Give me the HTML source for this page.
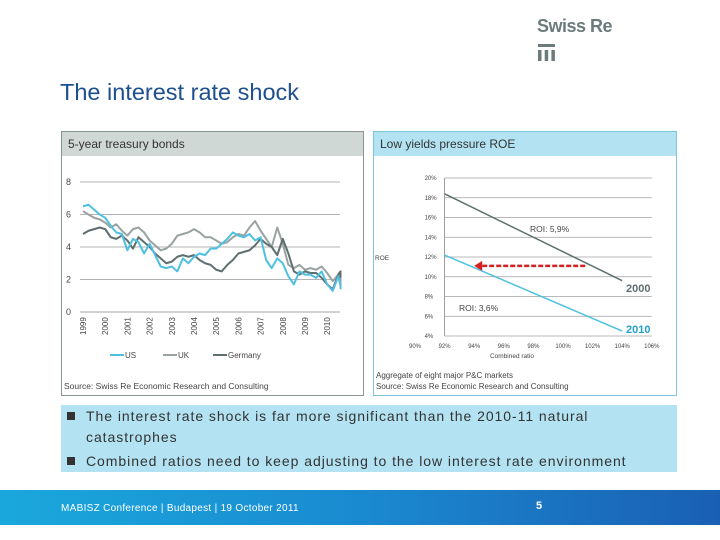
<!DOCTYPE html>
<html><head><meta charset="utf-8"><style>
body{margin:0;width:720px;height:540px;overflow:hidden;background:#fff;font-family:"Liberation Sans",sans-serif;position:relative}
.a{position:absolute}
</style></head><body>
<div class="a" style="left:537px;top:16px;font-size:18px;font-weight:bold;color:#6b7b7b;letter-spacing:-0.5px">Swiss Re</div>
<svg class="a" style="left:538px;top:44px" width="20" height="20"><rect x="0" y="0" width="17" height="3" fill="#6b7b7b"/><rect x="0" y="6" width="3.5" height="11" fill="#6b7b7b"/><rect x="6.7" y="6" width="3.5" height="11" fill="#6b7b7b"/><rect x="13.4" y="6" width="3.5" height="11" fill="#6b7b7b"/></svg>
<div class="a" style="left:60px;top:79px;font-size:23.5px;color:#1e4f8f">The interest rate shock</div>

<div class="a" style="left:61px;top:131px;width:303px;height:265px;border:1px solid #8a9494;box-sizing:border-box"></div>
<div class="a" style="left:62px;top:132px;width:301px;height:24px;background:#d0d8d6;font-size:12px;line-height:24px;padding-left:6px;box-sizing:border-box;color:#333">5-year treasury bonds</div>
<div class="a" style="left:373px;top:131px;width:304px;height:265px;border:1px solid #7fc6d8;box-sizing:border-box"></div>
<div class="a" style="left:374px;top:132px;width:302px;height:24px;background:#b3e3f3;font-size:12px;line-height:24px;padding-left:6px;box-sizing:border-box;color:#333">Low yields pressure ROE</div>

<svg id="c1" class="a" style="left:0;top:0" width="720" height="540"></svg>

<div class="a" style="left:61px;top:405px;width:616px;height:67px;background:#b3e3f3;font-size:14px;color:#333;letter-spacing:0.95px">
<div style="position:absolute;left:25px;top:1px;line-height:21px;width:530px"><span style="position:absolute;left:-19px;top:6px;width:8px;height:8px;background:#333"></span>The interest rate shock is far more significant than the 2010-11 natural catastrophes</div>
<div style="position:absolute;left:25px;top:46px;line-height:20px;width:600px;white-space:nowrap"><span style="position:absolute;left:-19px;top:6px;width:8px;height:8px;background:#333"></span>Combined ratios need to keep adjusting to the low interest rate environment</div>
</div>
<div class="a" style="left:0;top:490px;width:720px;height:35px;background:linear-gradient(90deg,#1aa8dc,#1a8ad0 50%,#1a5fb4)"></div>
<div class="a" style="left:61px;top:503px;font-size:10px;color:#fff;letter-spacing:0.3px">MABISZ Conference | Budapest | 19 October 2011</div>
<div class="a" style="left:536px;top:500px;font-size:11px;font-weight:bold;color:#fff">5</div>

<script>
const years=["1999","2000","2001","2002","2003","2004","2005","2006","2007","2008","2009","2010"];
const yTicks=[0,2,4,6,8];
const usVals=[6.5,6.6,6.3,6.0,5.8,5.3,4.9,4.8,3.8,4.5,4.3,3.6,4.2,3.5,2.8,2.7,2.8,2.5,3.3,3.0,3.4,3.6,3.5,3.9,3.9,4.2,4.5,4.9,4.7,4.6,4.8,4.4,4.6,3.2,2.7,3.3,3.0,2.2,1.7,2.5,2.3,2.3,2.1,2.5,1.7,1.3,2.2,1.6,1.4];
const ukVals=[6.2,6.0,5.8,5.7,5.5,5.2,5.4,5.0,4.7,5.1,5.2,4.9,4.4,4.1,3.8,3.9,4.2,4.7,4.8,4.9,5.1,4.9,4.6,4.6,4.4,4.2,4.3,4.6,4.8,4.7,5.2,5.6,5.0,4.5,4.0,5.2,4.2,2.9,2.7,2.9,2.6,2.7,2.6,2.8,2.4,1.9,2.3,2.1,1.5];
const deVals=[4.8,5.0,5.1,5.2,5.1,4.6,4.5,4.7,4.4,3.9,4.6,4.3,4.0,3.6,3.3,3.0,3.1,3.4,3.5,3.4,3.5,3.2,3.0,2.9,2.6,2.5,2.9,3.2,3.6,3.7,3.8,4.1,4.5,4.2,4.0,3.5,4.5,3.6,2.5,2.3,2.5,2.4,2.4,2.1,1.7,1.4,2.3,2.5,2.1];
const roeTicks=[4,6,8,10,12,14,16,18,20];
const crTicks=[90,92,94,96,98,100,102,104,106];
const line2000=[[92,18.4],[104,9.6]];
const line2010=[[92,12.2],[104,4.5]];
const arrowCR=[101.5,94];
const arrowROE=11.1;

const NS="http://www.w3.org/2000/svg";
const svg=document.getElementById('c1');
function mk(t,a,p){const e=document.createElementNS(NS,t);for(const k in a)e.setAttribute(k,a[k]);(p||svg).appendChild(e);return e;}
function tx(x,y,s,a){const e=mk('text',Object.assign({x:x,y:y,'font-family':'Liberation Sans, sans-serif','font-size':8,fill:'#444'},a||{}));e.textContent=s;return e;}
const xL=t=>83+(t-1999)*22.2;
const yL=v=>312-v*16.25;
yTicks.forEach(v=>{
 const g=mk('line',{x1:80,x2:340,y1:yL(v),y2:yL(v),stroke:v===0?'#888':'#9a9a9a','stroke-width':0.8});
 
 const t=tx(66,yL(v)+3,String(v),{'font-size':9});
 
});
years.forEach((y,i)=>{
 const x=xL(1999+i);
 const t=tx(0,0,y,{'font-size':8,transform:`translate(${x+3},335) rotate(-90)`});
 
});
function series(vals,col,w,name){
 const p=mk('polyline',{points:vals.map((v,i)=>xL(1999+Math.min(i*0.25,11.6))+','+yL(v)).join(' '),fill:'none',stroke:col,'stroke-width':w,'stroke-linejoin':'round'});
 
}
series(ukVals,'#9aa2a2',2,'uk-line');
series(deVals,'#5f6f6f',2,'germany-line');
series(usVals,'#4fc0e0',2,'us-line');
[['US','#4fc0e0',110],['UK','#9aa2a2',163],['Germany','#5f6f6f',213]].forEach(l=>{
 const g=mk('line',{x1:l[2],x2:l[2]+14,y1:355,y2:355,stroke:l[1],'stroke-width':2});
 
 const t=tx(l[2]+15,358,l[0]);
});
const s1=tx(64,389,'Source: Swiss Re Economic Research and Consulting',{'font-size':8.5});

const xR=c=>415+(c-90)*14.8;
const yR=r=>336-(r-4)*9.875;
roeTicks.forEach(r=>{
 const g=mk('line',{x1:xR(92),x2:xR(106),y1:yR(r),y2:yR(r),stroke:'#a0a0a0','stroke-width':0.8});
 
 const t=tx(xR(92)-20,yR(r)+2,r+'%',{'font-size':6});
 
});
mk('line',{x1:xR(92),x2:xR(92),y1:yR(20),y2:yR(4),stroke:'#888','stroke-width':0.8});
crTicks.forEach(c=>{
 const t=tx(xR(c),348,c+'%',{'font-size':6,'text-anchor':'middle'});
 
});
const cl=tx(512,358,'Combined ratio',{'font-size':6.5,'text-anchor':'middle'});
const rl=tx(375,260,'ROE',{'font-size':6.5});
const l1=mk('line',{x1:xR(line2000[0][0]),y1:yR(line2000[0][1]),x2:xR(line2000[1][0]),y2:yR(line2000[1][1]),stroke:'#5f6f6f','stroke-width':1.5});

const l2=mk('line',{x1:xR(line2010[0][0]),y1:yR(line2010[0][1]),x2:xR(line2010[1][0]),y2:yR(line2010[1][1]),stroke:'#4fc0e0','stroke-width':1.5});

const ar=mk('line',{x1:xR(arrowCR[0]),y1:yR(arrowROE),x2:xR(arrowCR[1])+6,y2:yR(arrowROE),stroke:'#d42020','stroke-width':2.5,'stroke-dasharray':'5,2'});

const ah=mk('polygon',{points:`${xR(arrowCR[1])},${yR(arrowROE)} ${xR(arrowCR[1])+8},${yR(arrowROE)-5} ${xR(arrowCR[1])+8},${yR(arrowROE)+5}`,fill:'#d42020'});

const t2000=tx(626,292,'2000',{'font-size':11,'font-weight':'bold',fill:'#5f6f6f'});
const t2010=tx(626,333,'2010',{'font-size':11,'font-weight':'bold',fill:'#20a0c8'});
const r1=tx(530,232,'ROI: 5,9%',{'font-size':8.5});
const r2=tx(459,311,'ROI: 3,6%',{'font-size':8.5});
const a1=tx(376,378,'Aggregate of eight major P&C markets',{'font-size':8});
const a2=tx(376,389,'Source: Swiss Re Economic Research and Consulting',{'font-size':8});
</script>
</body></html>
